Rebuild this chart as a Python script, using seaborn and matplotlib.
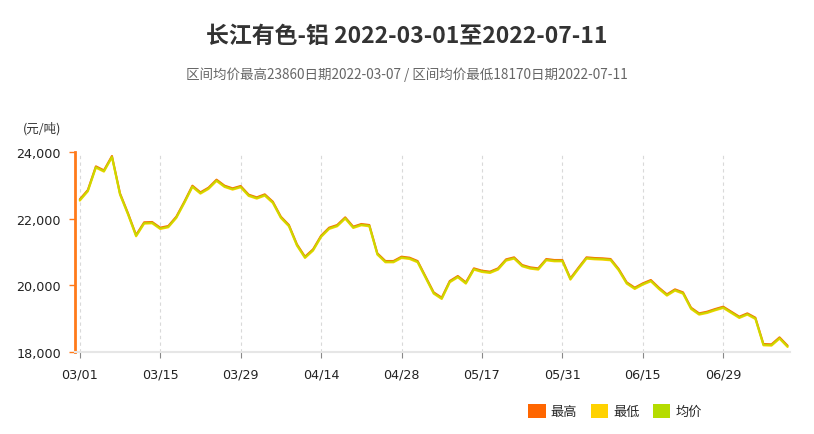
import pandas as pd
import matplotlib
matplotlib.use('Agg')
import matplotlib.pyplot as plt
from matplotlib.patches import Patch
import seaborn as sns

# торговые дни 2022-03-01 .. 2022-07-11 (без праздников КНР)
holidays = ['2022-04-04', '2022-04-05', '2022-05-02', '2022-05-03', '2022-05-04', '2022-06-03']
days = pd.bdate_range('2022-03-01', '2022-07-11')
days = days[~days.isin(pd.to_datetime(holidays))]
date_labels = days.strftime('%m/%d').tolist()

avg_price = [22560, 22840, 23550, 23430, 23860, 22740, 22140, 21490, 21870, 21880,
             21710, 21760, 22040, 22490, 22970, 22770, 22910, 23150, 22970, 22890,
             22960, 22700, 22620, 22710, 22490, 22040, 21790, 21210, 20840, 21060,
             21470, 21710, 21790, 22020, 21740, 21820, 21790, 20940, 20710, 20710,
             20840, 20810, 20710, 20240, 19770, 19610, 20110, 20260, 20070, 20490,
             20420, 20390, 20490, 20760, 20820, 20590, 20520, 20490, 20770, 20740,
             20740, 20190, 20510, 20820, 20800, 20790, 20770, 20470, 20070, 19910,
             20040, 20140, 19910, 19710, 19860, 19770, 19310, 19140, 19190, 19270,
             19340, 19190, 19040, 19140, 19010, 18220, 18210, 18420, 18170]

high_price = [22580, 22860, 23570, 23450, 23880, 22760, 22160, 21510, 21890, 21900,
              21730, 21780, 22060, 22510, 22990, 22790, 22930, 23170, 22990, 22910,
              22980, 22720, 22640, 22730, 22510, 22060, 21810, 21230, 20860, 21080,
              21490, 21730, 21810, 22040, 21760, 21840, 21810, 20960, 20730, 20730,
              20860, 20830, 20730, 20260, 19790, 19630, 20130, 20280, 20090, 20510,
              20440, 20410, 20510, 20780, 20840, 20610, 20540, 20510, 20790, 20760,
              20760, 20210, 20530, 20840, 20820, 20810, 20790, 20490, 20090, 19930,
              20060, 20160, 19930, 19730, 19880, 19790, 19330, 19160, 19210, 19290,
              19360, 19210, 19060, 19160, 19030, 18240, 18230, 18440, 18190]

low_price = [22540, 22820, 23530, 23410, 23840, 22720, 22120, 21470, 21850, 21860,
             21690, 21740, 22020, 22470, 22950, 22750, 22890, 23130, 22950, 22870,
             22940, 22680, 22600, 22690, 22470, 22020, 21770, 21190, 20820, 21040,
             21450, 21690, 21770, 22000, 21720, 21800, 21770, 20920, 20690, 20690,
             20820, 20790, 20690, 20220, 19750, 19590, 20090, 20240, 20050, 20470,
             20400, 20370, 20470, 20740, 20800, 20570, 20500, 20470, 20750, 20720,
             20720, 20170, 20490, 20800, 20780, 20770, 20750, 20450, 20050, 19890,
             20020, 20120, 19890, 19690, 19840, 19750, 19290, 19120, 19170, 19250,
             19320, 19170, 19020, 19120, 18990, 18200, 18190, 18400, 18150]

series_names = ['最高', '最低', '均价']
colors = {'最高': '#FF6600', '最低': '#FFD200', '均价': '#B5DC00'}

wide = pd.DataFrame({'idx': range(len(date_labels)),
                     '最高': high_price, '最低': low_price, '均价': avg_price})
df = wide.melt(id_vars='idx', var_name='series', value_name='price')

sns.set_style('white')
plt.rcParams['font.family'] = ['DejaVu Sans', 'Noto Sans CJK SC']
cjk = ['Noto Sans CJK SC', 'DejaVu Sans']

fig = plt.figure(figsize=(8.14, 4.35), dpi=100)
ax = fig.add_axes([0.0921, 0.1885, 0.8784, 0.4598])

sns.lineplot(data=df, x='idx', y='price', hue='series', hue_order=series_names,
             palette=colors, linewidth=1.5, legend=False, ax=ax)
#均价 поверх, чуть прозрачная — как в оригинале линия жёлто-зелёная
ax.lines[2].set_alpha(0.7)

ax.set_xlim(-0.6, 88.3)
ax.set_ylim(18000, 24000)
ax.set_yticks([18000, 20000, 22000, 24000])
ax.set_yticklabels([f'{v:,}' for v in [18000, 20000, 22000, 24000]])
xt = list(range(0, len(date_labels), 10))
ax.set_xticks(xt)
ax.set_xticklabels([date_labels[i] for i in xt])
ax.set_xlabel('')
ax.set_ylabel('')

for i in xt:
    ax.axvline(i, color='#d9d9d9', linestyle=(0, (3, 3)), linewidth=0.8, zorder=0)

for s in ['top', 'right']:
    ax.spines[s].set_visible(False)
ax.spines['left'].set_color('#FF7A1A')
ax.spines['left'].set_linewidth(2)
ax.spines['bottom'].set_color('#e6e6e6')
ax.spines['bottom'].set_linewidth(1.5)
ax.tick_params(axis='y', length=4, width=1, color='#FF7A1A', pad=6,
               labelsize=9.2, labelcolor='#222222', left=True)
ax.tick_params(axis='x', length=4, width=0.8, color='#888888', pad=7,
               labelsize=9.2, labelcolor='#222222', bottom=True)

fig.text(0.5, 0.915, '长江有色-铝 2022-03-01至2022-07-11', ha='center', va='center',
         fontsize=16.5, fontweight='bold', color='#333333', family=cjk)
fig.text(0.5, 0.828, '区间均价最高23860日期2022-03-07 / 区间均价最低18170日期2022-07-11',
         ha='center', va='center', fontsize=9.75, color='#666666', family=cjk)
fig.text(0.052, 0.705, '(元/吨)', ha='center', va='center', fontsize=9,
         color='#333333', family=cjk)

handles = [Patch(facecolor=colors[n], edgecolor='none', label=n) for n in series_names]
fig.legend(handles=handles, loc='center', bbox_to_anchor=(0.7555, 0.053), ncol=3,
           frameon=False, handlelength=1.3, handleheight=1.3, handletextpad=0.4,
           columnspacing=1.0, prop={'family': 'Noto Sans CJK SC', 'size': 9.5})

fig.savefig('out.png', dpi=100)
